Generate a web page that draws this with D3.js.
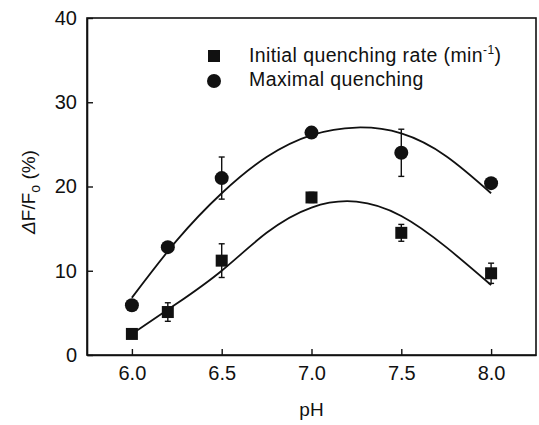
<!DOCTYPE html>
<html>
<head>
<meta charset="utf-8">
<script src="https://cdn.jsdelivr.net/npm/d3@7"></script>
<style>
  body { margin: 0; background: #fff; }
  text { font-family: "Liberation Sans", Arial, sans-serif; fill: #111; }
</style>
</head>
<body>
<div id="chart"></div>
<script>
// data
let phValues = [6.0, 6.2, 6.5, 7.0, 7.5, 8.0];
let rateValues = [2.5, 5.1, 11.2, 18.7, 14.5, 9.7];
let rateErrors = [0.4, 1.1, 2.0, 0.6, 1.0, 1.2];
let maxValues = [5.9, 12.8, 21.0, 26.4, 24.0, 20.4];
let maxErrors = [0.3, 0.5, 2.5, 0.3, 2.8, 0.4];

// fitted curves
let fitPh = [6.0, 6.25, 6.5, 6.75, 7.0, 7.25, 7.5, 7.75, 8.0];
let rateFit = [2.5, 6.1, 10.0, 14.5, 17.5, 18.2, 16.5, 12.8, 8.3];
let maxFit = [6.8, 13.6, 19.2, 23.5, 26.1, 27.0, 26.3, 23.6, 19.2];

let xTicks = [6.0, 6.5, 7.0, 7.5, 8.0];
let yTicks = [0, 10, 20, 30, 40];

let W = 539, H = 425;
let margin = {top: 18, right: 3, bottom: 70, left: 87};
let width = W - margin.left - margin.right;
let height = H - margin.top - margin.bottom;

let svg = d3.select("#chart").append("svg")
    .attr("width", W)
    .attr("height", H);

let g = svg.append("g")
    .attr("transform", "translate(" + margin.left + "," + margin.top + ")");

let x = d3.scaleLinear().domain([5.75, 8.25]).range([0, width]);
let y = d3.scaleLinear().domain([0, 40]).range([height, 0]);

// frame
g.append("rect")
    .attr("width", width)
    .attr("height", height)
    .attr("fill", "none")
    .attr("stroke", "#111")
    .attr("stroke-width", 1.6);

// axes, ticks pointing inward
let xAxis = g.append("g")
    .attr("transform", "translate(0," + height + ")")
    .call(d3.axisBottom(x).tickValues(xTicks).tickSizeInner(-6).tickSizeOuter(0)
        .tickPadding(11).tickFormat(d3.format(".1f")));
let yAxis = g.append("g")
    .call(d3.axisLeft(y).tickValues(yTicks).tickSizeInner(-6).tickSizeOuter(0).tickPadding(10));

[xAxis, yAxis].forEach(a => {
    a.select(".domain").attr("stroke", "#111").attr("stroke-width", 1.6);
    a.selectAll(".tick line").attr("stroke", "#111").attr("stroke-width", 1.4);
    a.selectAll(".tick text")
        .attr("font-size", "20px")
        .attr("font-family", "Liberation Sans, Arial, sans-serif")
        .attr("fill", "#111");
});

// axis titles
svg.append("text")
    .attr("x", margin.left + x(7.0))
    .attr("y", 416)
    .attr("text-anchor", "middle")
    .attr("font-size", "19px")
    .text("pH");

let yTitle = svg.append("text")
    .attr("transform", "translate(35," + 192 + ") rotate(-90)")
    .attr("text-anchor", "middle")
    .attr("font-size", "19px");
yTitle.append("tspan").attr("font-style", "italic").text("\u0394");
yTitle.append("tspan").text("F/F");
yTitle.append("tspan").attr("font-size", "14px").attr("dy", 5).text("o");
yTitle.append("tspan").attr("dy", -5).text(" (%)");

// fitted curves
let line = d3.line()
    .x(d => x(d[0]))
    .y(d => y(d[1]))
    .curve(d3.curveNatural);

[rateFit, maxFit].forEach(fit => {
    g.append("path")
        .datum(fitPh.map((p, i) => [p, fit[i]]))
        .attr("d", line)
        .attr("fill", "none")
        .attr("stroke", "#111")
        .attr("stroke-width", 1.8);
});

// error bars
function errorBars(vals, errs) {
    let eg = g.append("g");
    phValues.forEach((p, i) => {
        let cx = x(p), y1 = y(vals[i] + errs[i]), y2 = y(vals[i] - errs[i]);
        eg.append("line").attr("x1", cx).attr("x2", cx).attr("y1", y1).attr("y2", y2)
            .attr("stroke", "#111").attr("stroke-width", 1.4);
        [y1, y2].forEach(yy => {
            eg.append("line").attr("x1", cx - 3).attr("x2", cx + 3).attr("y1", yy).attr("y2", yy)
                .attr("stroke", "#111").attr("stroke-width", 1.4);
        });
    });
}
errorBars(rateValues, rateErrors);
errorBars(maxValues, maxErrors);

// markers
g.selectAll(".sq")
    .data(phValues)
    .enter().append("rect")
    .attr("class", "sq")
    .attr("x", (d) => x(d) - 6)
    .attr("y", (d, i) => y(rateValues[i]) - 6)
    .attr("width", 12)
    .attr("height", 12)
    .attr("fill", "#111");

g.selectAll(".dot")
    .data(phValues)
    .enter().append("circle")
    .attr("class", "dot")
    .attr("cx", d => x(d))
    .attr("cy", (d, i) => y(maxValues[i]))
    .attr("r", 7)
    .attr("fill", "#111");

// legend
let legend = svg.append("g");
legend.append("rect")
    .attr("x", 208).attr("y", 50).attr("width", 12).attr("height", 12)
    .attr("fill", "#111");
legend.append("circle")
    .attr("cx", 214).attr("cy", 81).attr("r", 7)
    .attr("fill", "#111");

let l1 = legend.append("text")
    .attr("x", 249).attr("y", 62)
    .attr("font-size", "19.5px")
    .attr("letter-spacing", "0.4px");
l1.append("tspan").text("Initial quenching rate (min");
l1.append("tspan").attr("font-size", "12px").attr("dy", -8).text("-1");
l1.append("tspan").attr("dy", 8).text(")");

legend.append("text")
    .attr("x", 249).attr("y", 86)
    .attr("font-size", "19.5px")
    .attr("letter-spacing", "0.4px")
    .text("Maximal quenching");
</script>
</body>
</html>
